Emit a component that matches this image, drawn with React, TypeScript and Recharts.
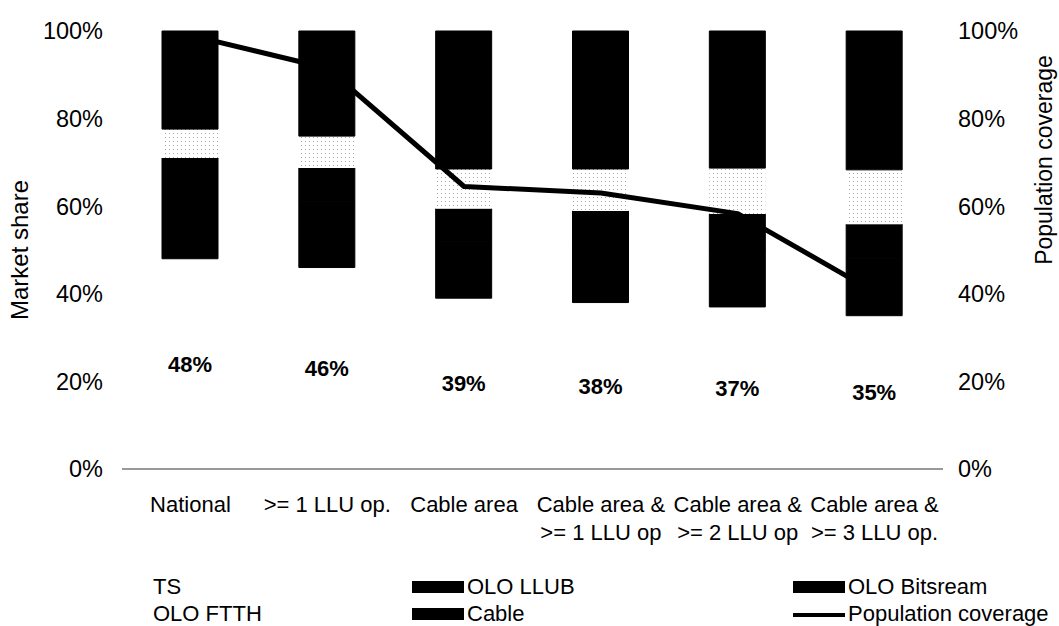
import { Bar, ComposedChart, LabelList, Legend, Line, XAxis, YAxis } from "recharts";

const categories = [
  "National",
  ">= 1 LLU op.",
  "Cable area",
  "Cable area &\n>= 1 LLU op",
  "Cable area &\n>= 2 LLU op",
  "Cable area &\n>= 3 LLU op.",
];
const seriesNames = ["TS", "OLO LLUB", "OLO Bitsream", "OLO FTTH", "Cable", "Population coverage"];
const ts = [48, 46, 39, 38, 37, 35];
const oloLlub = [15, 15, 13, 13, 13, 13];
const oloBitstream = [8, 7.7, 7.4, 7.9, 8.2, 7.9];
const oloFtth = [6.6, 7.3, 9.1, 9.6, 10.5, 12.4];
const cable = [22.4, 24, 31.5, 31.5, 31.3, 31.7];
const coverage = [99, 91.5, 64.5, 63, 58.3, 40.4];
const percentTicks = [0, 20, 40, 60, 80, 100];

const data = categories.map((name, i) => ({
  name,
  ts: ts[i],
  oloLlub: oloLlub[i],
  oloBitstream: oloBitstream[i],
  oloFtth: oloFtth[i],
  cable: cable[i],
  coverage: coverage[i],
}));

const FONT = "'Liberation Sans', Arial, sans-serif";

function CategoryTick({ x, y, payload }: any) {
  const lines = String(payload.value).split("\n");
  return (
    <text x={x} y={y} textAnchor="middle" fill="#000" fontSize={22} fontFamily={FONT}>
      {lines.map((l, i) => (
        <tspan key={i} x={x} dy={i === 0 ? 43 : 28}>
          {l}
        </tspan>
      ))}
    </text>
  );
}

function ChartLegend({ payload }: any) {
  const items = [...payload].sort((a: any, b: any) => seriesNames.indexOf(a.value) - seriesNames.indexOf(b.value));
  return (
    <div
      style={{
        display: "grid",
        gridTemplateColumns: "314px 381px 1fr",
        paddingLeft: 98,
        paddingTop: 15,
        height: 51,
        fontFamily: FONT,
        fontSize: 22,
        color: "#000",
      }}
    >
      {items.map((p: any) => (
        <div key={p.value} style={{ display: "flex", alignItems: "center", height: 27, whiteSpace: "nowrap" }}>
          <svg width={52} height={12} style={{ marginRight: 3 }}>
            {p.type === "line" ? (
              <line x1={0} x2={52} y1={7} y2={7} stroke={p.color} strokeWidth={4} />
            ) : (
              // stipple does not show at swatch size in the original
              <rect width={52} height={12} fill={String(p.color).startsWith("url") ? "#fff" : p.color} />
            )}
          </svg>
          {p.value}
        </div>
      ))}
    </div>
  );
}

export default function App() {
  return (
    <div style={{ position: "absolute", left: 0, top: 0, background: "#fff" }}>
      <ComposedChart width={1059} height={626} data={data} margin={{ top: 31, right: 0, bottom: 2, left: 0 }}>
        <defs>
          <pattern id="dots" width={4} height={4} patternUnits="userSpaceOnUse">
            <rect width={4} height={4} fill="#fff" />
            <rect x={1} y={1} width={1} height={1} fill="#a8a8a8" />
          </pattern>
        </defs>
        <XAxis
          dataKey="name"
          height={89}
          interval={0}
          tickLine={false}
          tickSize={0}
          tickMargin={0}
          axisLine={{ stroke: "#777", strokeWidth: 1.5 }}
          tick={<CategoryTick />}
        />
        <YAxis
          yAxisId="left"
          width={122}
          domain={[0, 100]}
          ticks={percentTicks}
          tickFormatter={(v: number) => `${v}%`}
          axisLine={false}
          tickLine={false}
          tickSize={0}
          tickMargin={19}
          tick={{ fill: "#000", fontSize: 23.5, fontFamily: FONT }}
          label={{ value: "Market share", angle: -90, position: "center", dx: -42, fill: "#000", fontSize: 24, fontFamily: FONT }}
        />
        <YAxis
          yAxisId="right"
          orientation="right"
          width={116}
          domain={[0, 100]}
          ticks={percentTicks}
          tickFormatter={(v: number) => `${v}%`}
          axisLine={false}
          tickLine={false}
          tickSize={0}
          tickMargin={15}
          tick={{ fill: "#000", fontSize: 23.5, fontFamily: FONT, textAnchor: "start" }}
          label={{ value: "Population coverage", angle: -90, position: "center", dx: 43, dy: -90, fill: "#000", fontSize: 23, fontFamily: FONT }}
        />
        <Legend verticalAlign="bottom" content={<ChartLegend />} />
        <Bar yAxisId="left" dataKey="ts" name="TS" stackId="s" fill="#fff" barSize={56} isAnimationActive={false}>
          <LabelList
            dataKey="ts"
            position="center"
            formatter={(v: any) => `${v}%`}
            style={{ fill: "#000", fontSize: 22, fontWeight: "bold", fontFamily: FONT }}
          />
        </Bar>
        <Bar yAxisId="left" dataKey="oloLlub" name="OLO LLUB" stackId="s" fill="#000" stroke="#000" barSize={56} isAnimationActive={false} />
        <Bar yAxisId="left" dataKey="oloBitstream" name="OLO Bitsream" stackId="s" fill="#000" stroke="#000" barSize={56} isAnimationActive={false} />
        <Bar yAxisId="left" dataKey="oloFtth" name="OLO FTTH" stackId="s" fill="url(#dots)" barSize={56} isAnimationActive={false} />
        <Bar yAxisId="left" dataKey="cable" name="Cable" stackId="s" fill="#000" stroke="#000" barSize={56} isAnimationActive={false} />
        <Line
          yAxisId="right"
          dataKey="coverage"
          name="Population coverage"
          type="linear"
          stroke="#000"
          strokeWidth={5}
          strokeLinejoin="round"
          dot={false}
          legendType="line"
          isAnimationActive={false}
        />
      </ComposedChart>
    </div>
  );
}
